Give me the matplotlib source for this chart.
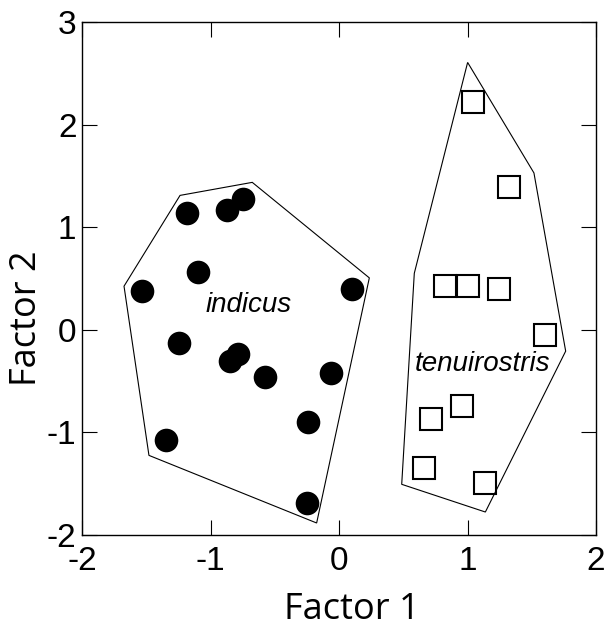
import matplotlib
matplotlib.use("Agg")
import matplotlib.pyplot as plt
from matplotlib.patches import Polygon

# indicus (filled circles)
ind_x = [-1.18, -0.87, -0.745, -1.10, -1.536, 0.104, -1.245, -0.848, -0.784, -0.576, -0.065, -0.239, -1.349, -0.252]
ind_y = [1.14, 1.17, 1.27, 0.56, 0.376, 0.40, -0.127, -0.30, -0.24, -0.46, -0.42, -0.90, -1.07, -1.69]
# tenuirostris (open squares)
ten_x = [1.045, 1.32, 0.825, 1.006, 1.247, 1.606, 0.955, 0.713, 0.659, 1.139]
ten_y = [2.22, 1.395, 0.425, 0.425, 0.40, -0.055, -0.747, -0.873, -1.344, -1.494]

# convex hulls
ind_hull_x = [-1.237, -0.675, 0.236, -0.174, -1.479, -1.673]
ind_hull_y = [1.31, 1.437, 0.506, -1.883, -1.224, 0.425]
ten_hull_x = [1.001, 1.517, 1.764, 1.139, 0.488, 0.586]
ten_hull_y = [2.606, 1.529, -0.208, -1.776, -1.506, 0.551]

xticks = [-2, -1, 0, 1, 2]
yticks = [-2, -1, 0, 1, 2, 3]

fig = plt.figure(figsize=(6.08, 6.28), dpi=100)
ax = fig.add_axes([82/608, 1-535/628, (596-82)/608, (535-22)/628])

ax.add_patch(Polygon(list(zip(ind_hull_x, ind_hull_y)), closed=True, fill=False,
                     edgecolor='black', linewidth=0.8))
ax.add_patch(Polygon(list(zip(ten_hull_x, ten_hull_y)), closed=True, fill=False,
                     edgecolor='black', linewidth=0.8))

ax.plot(ind_x, ind_y, linestyle='none', marker='o', markersize=17,
        markerfacecolor='black', markeredgewidth=0, zorder=3)
ax.plot(ten_x, ten_y, linestyle='none', marker='s', markersize=16,
        markerfacecolor='none', markeredgecolor='black', markeredgewidth=1.5, zorder=3)

ax.text(-0.706, 0.171, 'indicus', style='italic', family='Liberation Sans',
        fontsize=20, ha='center', va='baseline')
ax.text(1.12, -0.403, 'tenuirostris', style='italic', family='Liberation Sans',
        fontsize=20, ha='center', va='baseline')

ax.set_xlim(-2, 2)
ax.set_ylim(-2, 3)
ax.set_xticks(xticks)
ax.set_yticks(yticks)
ax.set_xticklabels([str(t) for t in xticks], family='Liberation Sans', fontsize=24)
ax.set_yticklabels([str(t) for t in yticks], family='Liberation Sans', fontsize=24)
ax.tick_params(axis='both', direction='in', length=11, width=0.8,
               top=True, right=True)
ax.tick_params(axis='x', pad=8)
ax.tick_params(axis='y', pad=4)
for s in ax.spines.values():
    s.set_linewidth(1.0)

ax.set_xlabel('Factor 1', family='Open Sans', fontsize=26)
ax.set_ylabel('Factor 2', family='Open Sans', fontsize=26)
ax.xaxis.set_label_coords((352-82)/514, -(610-535)/513)
ax.yaxis.set_label_coords(-(82-27)/514, (535-318)/513)
ax.xaxis.label.set_va('center')
ax.yaxis.label.set_va('center')

fig.savefig('out.png', dpi=100)
